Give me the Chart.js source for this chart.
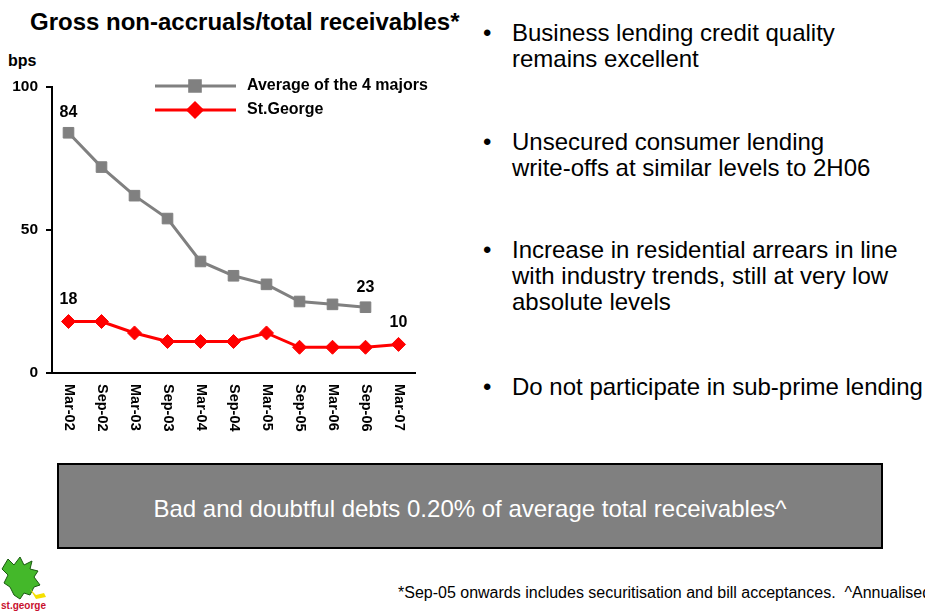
<!DOCTYPE html>
<html>
<head>
<meta charset="utf-8">
<script src="https://cdn.jsdelivr.net/npm/chart.js@4/dist/chart.umd.min.js"></script>
<style>
  body { margin: 0; width: 925px; height: 612px; background: #fff; position: relative; overflow: hidden; font-family: Arial, "Liberation Sans", sans-serif; }
  #chart { position: absolute; left: 0; top: 0; }
  .title { position: absolute; left: 30px; top: 8px; font-size: 24px; line-height: 28px; font-weight: bold; white-space: nowrap; }
  .bps { position: absolute; left: 8px; top: 52px; font-size: 16px; font-weight: bold; }
  .bullets { position: absolute; left: 483px; top: 20px; font-size: 24px; line-height: 26px; }
  .bullets div { position: absolute; left: 29px; white-space: nowrap; }
  .bullets div:before { content: "\2022"; position: absolute; left: -29px; }
  .box { position: absolute; left: 57px; top: 463px; width: 822px; height: 82px; background: #808080; border: 2px solid #000; color: #fff; font-size: 24px; text-align: center; line-height: 88px; }
  .foot { position: absolute; left: 398px; top: 584px; font-size: 16px; font-family: "Liberation Sans Narrow", "Arial Narrow", sans-serif; white-space: nowrap; }
  .logo { position: absolute; left: 0; top: 555px; }
</style>
</head>
<body>
<div class="title">Gross non-accruals/total receivables*</div>
<div class="bps">bps</div>
<canvas id="chart" width="440" height="445"></canvas>

<div class="bullets">
  <div style="top:0">Business lending credit quality<br>remains excellent</div>
  <div style="top:109px">Unsecured consumer lending<br>write-offs at similar levels to 2H06</div>
  <div style="top:217px">Increase in residential arrears in line<br>with industry trends, still at very low<br>absolute levels</div>
  <div style="top:354px">Do not participate in sub-prime lending</div>
</div>

<div class="box">Bad and doubtful debts 0.20% of average total receivables^</div>

<svg class="logo" width="62" height="57" viewBox="0 0 62 57">
  <path d="M8 4 L14 10 L20 2 L24 10 L32 6 L30 14 L38 16 L34 22 L40 30 L34 32 L30 40 L24 38 L20 44 L14 40 L10 32 L4 28 L8 20 L2 14 Z" fill="#44b82a" stroke="#1a5a10" stroke-width="1"/>
  <path d="M30 34 L36 40 L44 38 L46 42 L36 44 Z" fill="#f5e000"/>
  <text x="1" y="54" font-size="10" font-weight="bold" fill="#c8102e" font-family="Arial">st.george</text>
</svg>

<div class="foot">*Sep-05 onwards includes securitisation and bill acceptances.&nbsp; ^Annualised</div>

<script>
const periods = ['Mar-02', 'Sep-02', 'Mar-03', 'Sep-03', 'Mar-04', 'Sep-04', 'Mar-05', 'Sep-05', 'Mar-06', 'Sep-06', 'Mar-07'];
const majorsAvg = [84, 72, 62, 54, 39, 34, 31, 25, 24, 23, null];
const stGeorge = [18, 18, 14, 11, 11, 11, 14, 9, 9, 9, 10];
const yTicks = [0, 50, 100];

// which points get a value label
const majorsLabelled = [0, 9];
const stGeorgeLabelled = [0, 10];

const canvas = document.getElementById('chart').getContext('2d');

const extras = {
    id: 'extras',
    afterDraw(chart) {
        const { ctx, scales } = chart;
        const x = scales.x;
        const y = scales.y;
        ctx.save();
        ctx.fillStyle = '#000';
        ctx.font = 'bold 16px Arial, "Liberation Sans"';

        // value labels
        ctx.textAlign = 'center';
        ctx.textBaseline = 'middle';
        majorsLabelled.forEach(i => {
            ctx.fillText(majorsAvg[i], x.getPixelForValue(i), y.getPixelForValue(majorsAvg[i]) - 20);
        });
        stGeorgeLabelled.forEach(i => {
            ctx.fillText(stGeorge[i], x.getPixelForValue(i), y.getPixelForValue(stGeorge[i]) - 22);
        });

        // rotated category labels, reading downwards
        ctx.font = 'bold 14.5px Arial, "Liberation Sans"';
        periods.forEach((p, i) => {
            ctx.save();
            ctx.translate(x.getPixelForValue(i), x.top + 11);
            ctx.rotate(Math.PI / 2);
            ctx.textAlign = 'left';
            ctx.fillText(p, 0, 0);
            ctx.restore();
        });

        // legend
        ctx.font = 'bold 16px Arial, "Liberation Sans"';
        const items = [
            { ds: chart.data.datasets[0], yy: 86 },
            { ds: chart.data.datasets[1], yy: 110 }
        ];
        items.forEach(({ ds, yy }) => {
            ctx.strokeStyle = ds.borderColor;
            ctx.lineWidth = 3;
            ctx.beginPath();
            ctx.moveTo(155, yy);
            ctx.lineTo(236, yy);
            ctx.stroke();
            Chart.helpers.drawPoint(ctx, {
                pointStyle: ds.pointStyle,
                radius: ds.pointRadius,
                borderWidth: 1
            }, 195, yy);
            ctx.fillStyle = ds.pointBackgroundColor;
            ctx.fill();
            ctx.fillStyle = '#000';
            ctx.textAlign = 'left';
            ctx.fillText(ds.label, 247, yy);
        });
        ctx.restore();
    }
};

new Chart(canvas, {
    type: 'line',
    data: {
        labels: periods,
        datasets: [
            {
                label: 'Average of the 4 majors',
                data: majorsAvg,
                borderColor: '#808080',
                borderWidth: 3,
                pointStyle: 'rect',
                pointRadius: 7.5,
                pointBackgroundColor: '#808080',
                pointBorderColor: '#808080',
                pointBorderWidth: 1,
                clip: false
            },
            {
                label: 'St.George',
                data: stGeorge,
                borderColor: '#ff0000',
                borderWidth: 3,
                pointStyle: 'rectRot',
                pointRadius: 7,
                pointBackgroundColor: '#ff0000',
                pointBorderColor: '#ff0000',
                pointBorderWidth: 1,
                clip: false
            }
        ]
    },
    options: {
        responsive: false,
        devicePixelRatio: 1,
        animation: false,
        layout: { padding: { top: 87, right: 25, left: 0, bottom: 0 } },
        plugins: { legend: { display: false }, tooltip: { enabled: false } },
        scales: {
            x: {
                offset: true,
                grid: { display: false },
                border: { color: '#000', width: 2 },
                ticks: { display: false },
                afterFit: (s) => { s.height = 72; }
            },
            y: {
                min: 0,
                max: 100,
                afterBuildTicks: (s) => { s.ticks = yTicks.map(v => ({ value: v })); },
                grid: { drawOnChartArea: false, color: '#000', lineWidth: 2, tickLength: 6 },
                border: { color: '#000', width: 2 },
                ticks: { color: '#000', font: { family: 'Arial', size: 15.5, weight: 'bold' }, padding: 8 },
                afterFit: (s) => { s.width = 52; }
            }
        }
    },
    plugins: [extras]
});
</script>
</body>
</html>
